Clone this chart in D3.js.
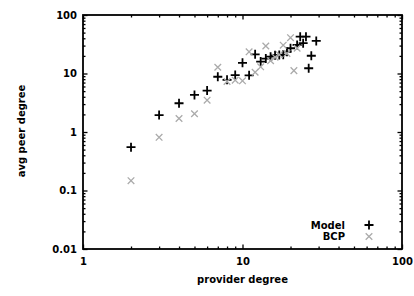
<!DOCTYPE html>
<html><head><meta charset="utf-8">
<script src="https://cdn.jsdelivr.net/npm/d3@7/dist/d3.min.js"></script>
<style>
body{margin:0;background:#fff}
svg text{font-family:"DejaVu Sans",sans-serif;font-weight:bold;fill:#000}
</style>
</head><body>
<svg id="c" width="414" height="296"></svg>
<script>
// ---- data ----
const modelX = [2, 3, 4, 5, 6, 7, 8, 9, 10, 11, 12, 13, 14, 15, 16, 17, 18, 19, 20, 22, 23, 24, 25, 26, 27, 29];
const modelY = [0.55, 1.95, 3.1, 4.3, 5.1, 8.8, 7.8, 9.4, 15.2, 9.3, 21.3, 16, 18, 19.4, 20.5, 20.7, 21, 23.6, 27, 30.7, 42.6, 33, 42.6, 12.3, 20.1, 36];
const bcpX = [2, 3, 4, 5, 6, 7, 8, 9, 10, 11, 12, 13, 14, 15, 16, 17, 18, 19, 20, 21, 22];
const bcpY = [0.147, 0.81, 1.7, 2.05, 3.5, 12.8, 7.3, 7.7, 7.5, 23.5, 10.5, 13, 29.5, 16.5, 19, 21, 30.5, 22, 41, 11.2, 27];
const seriesNames = ["Model", "BCP"];
const xTickValues = [1, 10, 100];
const xTickLabels = ["1", "10", "100"];
const yTickValues = [0.01, 0.1, 1, 10, 100];
const yTickLabels = ["0.01", "0.1", "1", "10", "100"];
const xTitle = "provider degree";
const yTitle = "avg peer degree";

// ---- layout ----
const L = 83, R = 402, T = 15, B = 249;
const svg = d3.select("#c");
const x = d3.scaleLog().domain([1, 100]).range([L, R]);
const y = d3.scaleLog().domain([0.01, 100]).range([B, T]);

function minors(lo, hi) {
  const out = [];
  for (let d = lo; d < hi; d *= 10) for (let k = 2; k <= 9; k++) out.push(d * k);
  return out;
}
const xMinor = minors(1, 100), yMinor = minors(0.01, 100);
const MAJ = 4.5, MIN = 2.5;

function addAxis(axis, tx, ty) {
  const g = svg.append("g").attr("transform", `translate(${tx},${ty})`).call(axis);
  g.select(".domain").remove();
  g.selectAll(".tick line").attr("stroke", "#000").attr("stroke-width", 1.3);
  g.selectAll("text").attr("fill", "#000").style("font-size", "10px");
  g.attr("font-family", null).attr("font-size", null);
  return g;
}
const fx = d => xTickLabels[xTickValues.indexOf(d)];
const fy = d => yTickLabels[yTickValues.indexOf(d)];

// bottom
addAxis(d3.axisBottom(x).tickValues(xTickValues).tickFormat(fx).tickSizeInner(-MAJ).tickSizeOuter(0).tickPadding(9), 0, B);
addAxis(d3.axisBottom(x).tickValues(xMinor).tickFormat("").tickSizeInner(-MIN).tickSizeOuter(0), 0, B);
// top
addAxis(d3.axisTop(x).tickValues(xTickValues).tickFormat("").tickSizeInner(-MAJ).tickSizeOuter(0), 0, T);
addAxis(d3.axisTop(x).tickValues(xMinor).tickFormat("").tickSizeInner(-MIN).tickSizeOuter(0), 0, T);
// left
addAxis(d3.axisLeft(y).tickValues(yTickValues).tickFormat(fy).tickSizeInner(-MAJ).tickSizeOuter(0).tickPadding(6), L, 0);
addAxis(d3.axisLeft(y).tickValues(yMinor).tickFormat("").tickSizeInner(-MIN).tickSizeOuter(0), L, 0);
// right
addAxis(d3.axisRight(y).tickValues(yTickValues).tickFormat("").tickSizeInner(-MAJ).tickSizeOuter(0), R, 0);
addAxis(d3.axisRight(y).tickValues(yMinor).tickFormat("").tickSizeInner(-MIN).tickSizeOuter(0), R, 0);

// frame
svg.append("rect").attr("x", L).attr("y", T).attr("width", R - L).attr("height", B - T)
  .attr("fill", "none").attr("stroke", "#000").attr("stroke-width", 1.8);

// titles
svg.append("text").attr("x", (L + R) / 2).attr("y", 283).attr("text-anchor", "middle")
  .attr("fill", "#000").style("font-size", "10px").text(xTitle);
svg.append("text").attr("transform", `translate(25,${(T + B) / 2 - 1}) rotate(-90)`)
  .attr("text-anchor", "middle").attr("fill", "#000").style("font-size", "10px").text(yTitle);

// markers
const plusPath = s => `M${-s},0H${s}M0,${-s}V${s}`;
const crossPath = s => `M${-s},${-s}L${s},${s}M${-s},${s}L${s},${-s}`;
const modelColor = "#000", bcpColor = "#ababab";

svg.append("g").selectAll("path").data(modelX.map((v, i) => [v, modelY[i]])).join("path")
  .attr("transform", d => `translate(${x(d[0])},${y(d[1])})`)
  .attr("d", plusPath(4.5)).attr("stroke", modelColor).attr("stroke-width", 1.8).attr("fill", "none");
svg.append("g").selectAll("path").data(bcpX.map((v, i) => [v, bcpY[i]])).join("path")
  .attr("transform", d => `translate(${x(d[0])},${y(d[1])})`)
  .attr("d", crossPath(3.3)).attr("stroke", bcpColor).attr("stroke-width", 1.3).attr("fill", "none");

// legend
const legX = 345, legMx = 369, legY = [225, 236.5];
seriesNames.forEach((n, i) => {
  svg.append("text").attr("x", legX).attr("y", legY[i] + 3.5).attr("text-anchor", "end")
    .attr("fill", "#000").style("font-size", "10px").text(n);
  svg.append("path").attr("transform", `translate(${legMx},${legY[i]})`)
    .attr("d", i === 0 ? plusPath(4.5) : crossPath(3.3))
    .attr("stroke", i === 0 ? modelColor : bcpColor).attr("stroke-width", i === 0 ? 1.8 : 1.3).attr("fill", "none");
});
</script>
</body></html>
